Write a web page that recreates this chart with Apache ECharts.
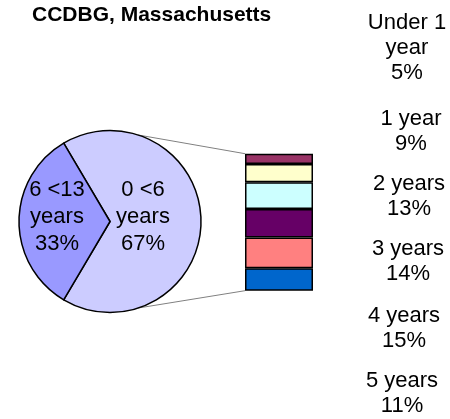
<!DOCTYPE html>
<html>
<head>
<meta charset="utf-8">
<script src="https://cdn.jsdelivr.net/npm/echarts@6/dist/echarts.min.js"></script>
<style>
  html, body { margin: 0; padding: 0; background: #fff; }
  #chart { width: 450px; height: 419px; }
</style>
</head>
<body>
<div id="chart"></div>
<script>
// age groups in the pie
const pieNames = ["0 <6 years", "6 <13 years"];
const pieValues = [67, 33];
const pieColors = ["#CCCCFF", "#9999FF"];

// breakdown of "0 <6 years" shown in the stacked bar (top to bottom)
const barNames = ["Under 1 year", "1 year", "2 years", "3 years", "4 years", "5 years"];
const barValues = [5, 9, 13, 14, 15, 11];
const barColors = ["#993366", "#FFFFCC", "#CCFFFF", "#660066", "#FF8080", "#0066CC"];

// layout
const pieCenter = [110, 221.5];
const pieRadius = 91;
const pieLabelOffset = [[-15.5, -5], [-4.5, -5]];
const labelX = [407, 411, 409, 408, 404, 402];
const labelY = [48, 131, 196, 261, 328, 393];
const font = "Liberation Sans";

const myChart = echarts.init(document.getElementById("chart"));

const barTotal = barValues.reduce((a, b) => a + b, 0);
const startAngle = pieValues[0] / (pieValues[0] + pieValues[1]) * 180;

// stacked bar: first series sits at the bottom, so go in reverse
const barSeries = barNames.map((name, i) => ({
  name: name,
  type: "bar",
  stack: "total",
  barWidth: "100%",
  data: [barValues[i]],
  itemStyle: { color: barColors[i], borderColor: "#000", borderWidth: 1.5 },
  emphasis: { disabled: true }
})).reverse();

function labelText(name, value) {
  let t = name;
  if (t.indexOf("Under") === 0) t = t.replace(/ (\S+)$/, "\n$1");
  return t + "\n" + value + "%";
}

myChart.setOption({
  animation: false,
  textStyle: { fontFamily: font },
  title: {
    text: "CCDBG, Massachusetts",
    left: 27,
    top: 0,
    textStyle: { fontFamily: font, fontSize: 21, fontWeight: "bold", color: "#000" }
  },
  grid: { left: 245, top: 153.7, width: 68, height: 137 },
  xAxis: { type: "category", data: ["0 <6 years"], show: false },
  yAxis: { type: "value", min: 0, max: barTotal, show: false },
  series: [
    {
      type: "pie",
      center: pieCenter,
      radius: [0, pieRadius],
      startAngle: startAngle,
      clockwise: true,
      emphasis: { disabled: true },
      itemStyle: { borderColor: "#000", borderWidth: 1.5 },
      label: {
        position: "inside",
        fontFamily: font,
        fontSize: 22,
        lineHeight: 27,
        color: "#000",
        formatter: p => p.name.replace(" years", "\nyears") + "\n" + p.value + "%"
      },
      labelLine: { show: false },
      data: pieNames.map((n, i) => ({
        name: n,
        value: pieValues[i],
        itemStyle: { color: pieColors[i] },
        label: { offset: pieLabelOffset[i] }
      }))
    }
  ].concat(barSeries)
});

// connector lines and side labels, placed from the bar's axis scale
const barTop = myChart.convertToPixel({ yAxisIndex: 0 }, barTotal);
const barBottom = myChart.convertToPixel({ yAxisIndex: 0 }, 0);
const barLeft = 245;
const a = 72 * Math.PI / 180;
const graphics = [
  {
    type: "line",
    shape: { x1: pieCenter[0] + pieRadius * Math.cos(a), y1: pieCenter[1] - pieRadius * Math.sin(a), x2: barLeft, y2: barTop },
    style: { stroke: "#808080", lineWidth: 1 }
  },
  {
    type: "line",
    shape: { x1: pieCenter[0] + pieRadius * Math.cos(a), y1: pieCenter[1] + pieRadius * Math.sin(a), x2: barLeft, y2: barBottom },
    style: { stroke: "#808080", lineWidth: 1 }
  }
];
barNames.forEach((n, i) => {
  graphics.push({
    type: "text",
    x: labelX[i],
    y: labelY[i],
    style: {
      text: labelText(n, barValues[i]),
      fontFamily: font,
      fontSize: 22,
      lineHeight: 25,
      fill: "#000",
      align: "center",
      verticalAlign: "middle"
    }
  });
});
myChart.setOption({ graphic: graphics });
</script>
</body>
</html>
